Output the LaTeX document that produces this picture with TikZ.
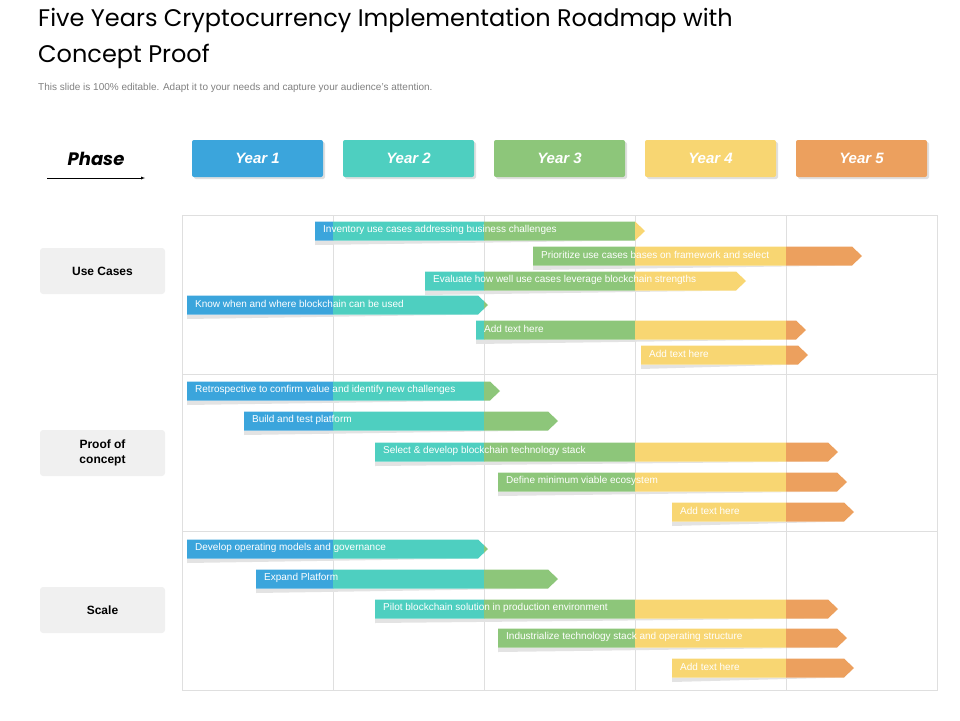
\documentclass[tikz,border=0pt]{standalone}
\usepackage{fontspec}
\setmainfont{Liberation Sans}
\newfontfamily\titlefont{Poppins}
\definecolor{cA}{HTML}{3BA5DC}
\definecolor{cB}{HTML}{4ECFC0}
\definecolor{cC}{HTML}{8DC67A}
\definecolor{cD}{HTML}{F8D672}
\definecolor{cE}{HTML}{ECA05E}
\tikzset{
 bartext/.style={anchor=west,text=white,font=\fontsize{10}{11}\selectfont,inner sep=0pt},
 yearbox/.style={rounded corners=2pt,minimum width=131pt,minimum height=37pt,text=white,font=\fontsize{15}{16}\selectfont\bfseries\itshape,drop shadow={opacity=0.25,shadow xshift=2pt,shadow yshift=-2pt}},
 rowbox/.style={fill=gray!12,rounded corners=3pt,minimum width=125pt,minimum height=46pt,align=center,font=\fontsize{12}{15}\selectfont\bfseries},
 gridline/.style={draw=gray!25,line width=0.8pt}
}
\usetikzlibrary{shadows}
\newcommand\gbar[5]{%
 \fill[gray!22] (#2,#4+9.5) -- (#3-10,#4+9.5) -- (#2,#4+14) -- cycle;
 \begin{scope}
 \clip (#2,#4-9.5) -- (#3-10,#4-9.5) -- (#3,#4) -- (#3-10,#4+9.5) -- (#2,#4+9.5) -- cycle;
 \fill[cA] (0,#4-10) rectangle (333,#4+10);
 \fill[cB] (333,#4-10) rectangle (484,#4+10);
 \fill[cC] (484,#4-10) rectangle (635,#4+10);
 \fill[cD] (635,#4-10) rectangle (786,#4+10);
 \fill[cE] (786,#4-10) rectangle (960,#4+10);
 \end{scope}
 \node[bartext] (#1) at (#2+8,#4-1) {#5};}
\begin{document}
\begin{tikzpicture}[x=1pt,y=-1pt]
\useasboundingbox (0,0) rectangle (960,720);
\node[anchor=north west,inner sep=0pt,align=left,font=\titlefont\fontsize{24}{36}\selectfont] (title) at (38,8) {Five Years Cryptocurrency Implementation Roadmap with\\Concept Proof};
\node[anchor=west,inner sep=0pt,text=gray,font=\fontsize{10}{12}\selectfont] (sub) at (38,88) {This slide is 100\% editable. Adapt it to your needs and capture your audience's attention.};
% phase
\node[font=\titlefont\fontsize{18}{20}\selectfont\bfseries\itshape] (phase) at (96,159) {Phase};
\coordinate (pa) at (47,178); \coordinate (pb) at (145,178);
\draw[-latex] (pa) -- (pb);
% years
\node[yearbox,fill=cA] (y1) at (257.5,158.5) {Year 1};
\node[yearbox,fill=cB] (y2) at (408.5,158.5) {Year 2};
\node[yearbox,fill=cC] (y3) at (559.5,158.5) {Year 3};
\node[yearbox,fill=cD] (y4) at (710.5,158.5) {Year 4};
\node[yearbox,fill=cE] (y5) at (861.5,158.5) {Year 5};
% grid
\draw[gridline] (182,215) rectangle (937,690);
\foreach \x in {333,484,635,786} \draw[gridline] (\x,215) -- (\x,690);
\draw[gridline] (182,374) -- (937,374);
\draw[gridline] (182,531) -- (937,531);
% rows
\node[rowbox] (r1) at (102.5,271) {Use Cases};
\node[rowbox] (r2) at (102.5,453) {Proof of\\concept};
\node[rowbox] (r3) at (102.5,610) {Scale};
% bars
\gbar{b1}{315}{645}{231}{Inventory use cases addressing business challenges}
\gbar{b2}{533}{862}{256}{Prioritize use cases bases on framework and select}
\gbar{b3}{425}{746}{281}{Evaluate how well use cases leverage blockchain strengths}
\gbar{b4}{187}{488}{305}{Know when and where blockchain can be used}
\gbar{b5}{476}{806}{330}{Add text here}
\gbar{b6}{641}{808}{355}{Add text here}
\gbar{b7}{187}{500}{391}{Retrospective to confirm value and identify new challenges}
\gbar{b8}{244}{558}{421}{Build and test platform}
\gbar{b9}{375}{838}{452}{Select \& develop  blockchain technology stack}
\gbar{b10}{498}{847}{482}{Define minimum viable ecosystem}
\gbar{b11}{672}{854}{512}{Add text here}
\gbar{b12}{187}{488}{549}{Develop operating models and governance}
\gbar{b13}{256}{558}{579}{Expand Platform}
\gbar{b14}{375}{838}{609}{Pilot blockchain solution in production environment}
\gbar{b15}{498}{847}{638}{Industrialize technology stack and operating structure}
\gbar{b16}{672}{854}{668}{Add text here}
\end{tikzpicture}
\end{document}
